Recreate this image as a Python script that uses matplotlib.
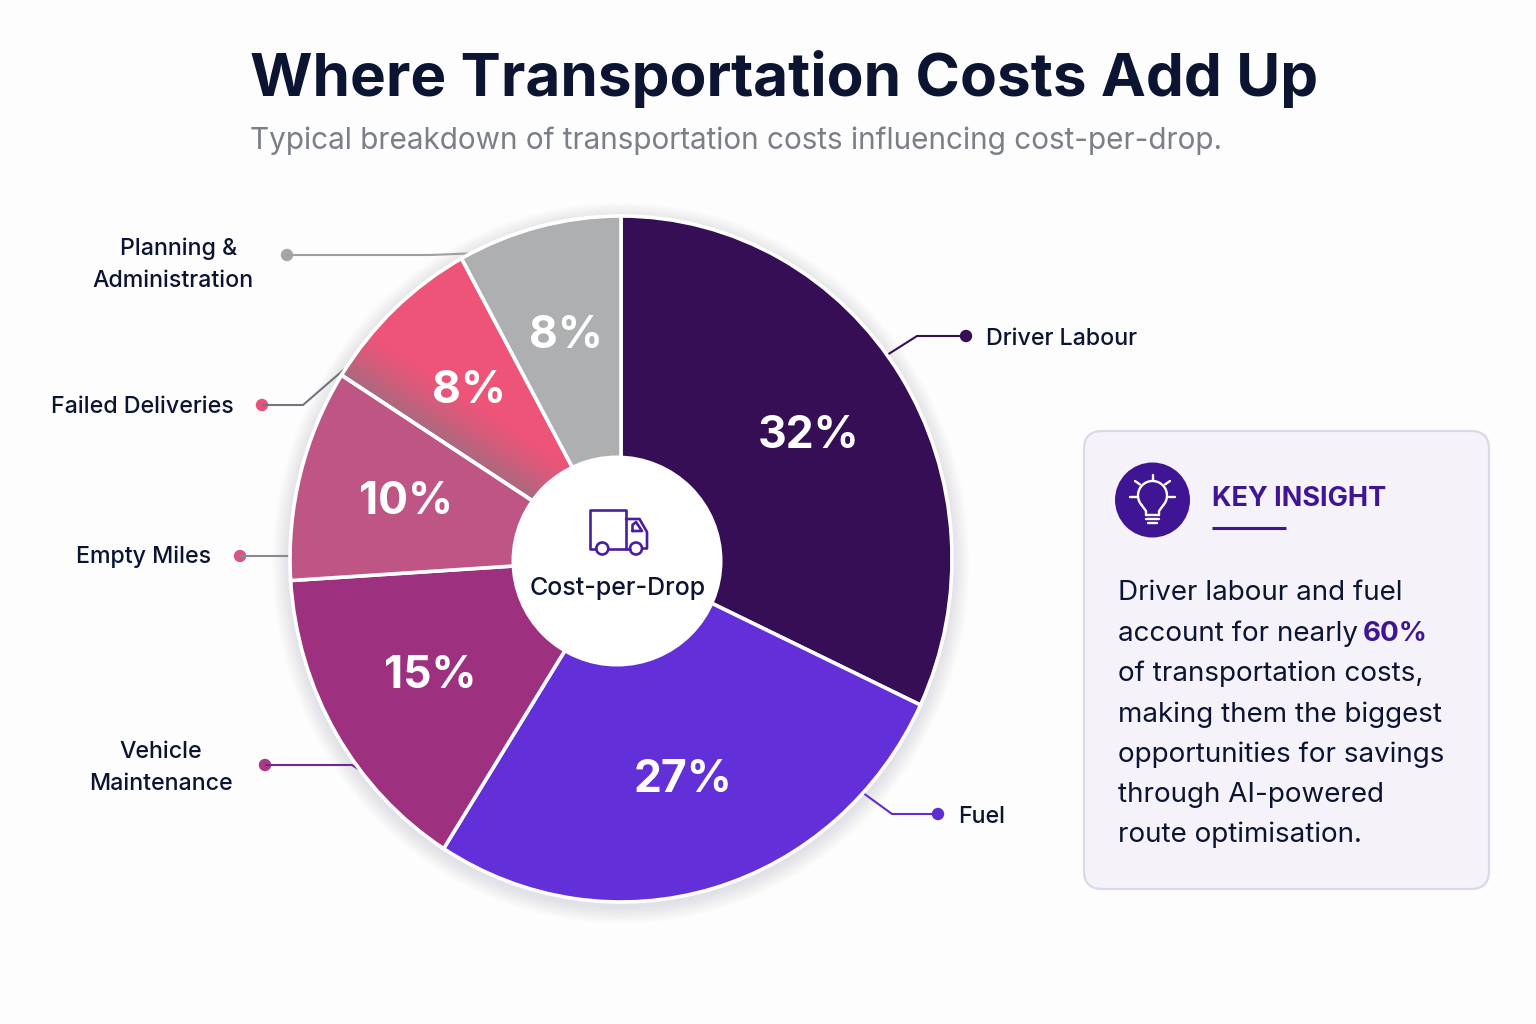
import numpy as np
import matplotlib
matplotlib.use('Agg')
import matplotlib.pyplot as plt
from matplotlib.patches import Circle, Ellipse, FancyBboxPatch

plt.rcParams['font.family'] = ['Inter', 'DejaVu Sans']

# cost shares
categories = ['Driver Labour', 'Fuel', 'Vehicle Maintenance', 'Empty Miles', 'Failed Deliveries', 'Planning & Administration']
shares = [32, 27, 15, 10, 8, 8]
colors = ['#350e55', '#632fd8', '#9d3180', '#be5585', '#ee5478', '#aeafb1']
dot_colors = ['#350e55', '#5f2dd0', '#a83a83', '#d75488', '#e6527c', '#a6a6a8']
line_colors = ['#350e55', '#5f2dd0', '#6b2a8f', '#8a8a8f', '#77727f', '#a0a0a2']

body_lines = ['Driver labour and fuel', 'account for nearly', 'of transportation costs,',
              'making them the biggest', 'opportunities for savings',
              'through AI-powered', 'route optimisation.']

W, H = 1536, 1024
CX, CY, RX, RY = 621, 559, 331, 343
INK = '#0b1430'
PURPLE = '#3f1594'

fig = plt.figure(figsize=(W / 100, H / 100), dpi=100, facecolor='#fdfdfe')


def pixel_axes(z):
    ax = fig.add_axes([0, 0, 1, 1], zorder=z)
    ax.set_xlim(0, W)
    ax.set_ylim(H, 0)
    ax.axis('off')
    ax.patch.set_alpha(0)
    return ax


def rim(angle):
    # point on the pie edge, angle clockwise from 12 o'clock
    a = np.radians(angle)
    return CX + RX * np.sin(a), CY - RY * np.cos(a)


back = pixel_axes(0)
top = pixel_axes(2)

# soft shadow behind the pie
for i in range(14):
    back.add_patch(Ellipse((CX, CY + 4), 2 * (RX + 2 + i * 1.2), 2 * (RY + 2 + i * 1.2),
                           fc='#3a2a70', ec='none', alpha=0.006))

# pie
pad = 1.1
pie_ax = fig.add_axes([(CX - RX * pad) / W, 1 - (CY + RY * pad) / H, 2 * RX * pad / W, 2 * RY * pad / H], zorder=1)
wedges, _ = pie_ax.pie(shares, colors=colors, startangle=90, counterclock=False, radius=1,
                       wedgeprops={'edgecolor': 'white', 'linewidth': 2.6})
pie_ax.set_aspect('auto')

# failed deliveries fades to a muted tone along its lower edge
failed = wedges[4]
low = np.radians(failed.theta2)
gx, gy = np.meshgrid(np.linspace(-1, 1, 500), np.linspace(-1, 1, 500))
dist = np.abs(gy * np.cos(low) - gx * np.sin(low))
mix = np.clip(1 - dist / 0.15, 0, 1)[..., None] ** 1.2
grad = (1 - mix) * np.array(matplotlib.colors.to_rgb('#ee5478')) + mix * np.array(matplotlib.colors.to_rgb('#a86a80'))
im = pie_ax.imshow(grad, extent=(-1, 1, -1, 1), origin='lower', aspect='auto', zorder=0.5)
im.set_clip_path(failed)
failed.set_facecolor('none')
pie_ax.set_xlim(-pad, pad)
pie_ax.set_ylim(-pad, pad)

for w, v in zip(wedges, shares):
    mid = np.radians((w.theta1 + w.theta2) / 2)
    pie_ax.text(0.67 * np.cos(mid), 0.67 * np.sin(mid), f'{v}%', color='white', fontsize=32,
                fontweight='bold', ha='center', va='center')

# centre hole
top.add_patch(Circle((617, 561), 105.5, fc='white', ec='none'))
top.text(618, 595, 'Cost-per-Drop', fontsize=18, fontweight='medium', color=INK, ha='center', va='baseline')

# truck icon
truck = dict(color='#4a1ea0', lw=1.9, solid_capstyle='round', solid_joinstyle='round')
top.plot([596, 589.5, 589.5, 626, 626], [549, 549, 510, 510, 549], **truck)
top.plot([626, 639.5, 647, 647, 642.5], [519, 519, 532, 548.5, 548.5], **truck)
top.plot([632.5, 632.5, 636, 642, 632.5], [531, 525, 522, 531, 531], **truck)
top.plot([608.5, 630], [549, 549], **truck)
for wx in (602.3, 636):
    top.add_patch(Circle((wx, 548.5), 6, fc='white', ec='#4a1ea0', lw=1.9))

# leaders and side labels
leaders = [
    ([966, 917, rim(53.5)[0]], [336, 336, rim(53.5)[1]]),
    ([938, 892, rim(133)[0]], [814, 814, rim(133)[1]]),
    ([265, 352, rim(232)[0]], [765, 765, rim(232)[1]]),
    ([240, rim(270)[0]], [556, 556]),
    ([262, 303, rim(304)[0]], [405, 405, rim(304)[1]]),
    ([287, 430, rim(333)[0]], [255, 255, rim(333)[1]]),
]
for (xs, ys), lc, dc in zip(leaders, line_colors, dot_colors):
    back.plot(xs, ys, color=lc, lw=1.5, solid_capstyle='butt', solid_joinstyle='miter')
    back.add_patch(Circle((xs[0], ys[0]), 6.2, fc=dc, ec='none'))

label_kw = dict(fontsize=16.7, fontweight='medium', color=INK, va='baseline')
top.text(986, 345, 'Driver Labour', ha='left', **label_kw)
top.text(958, 823, 'Fuel', ha='left', **label_kw)
top.text(161, 758, 'Vehicle', ha='center', **label_kw)
top.text(161, 790, 'Maintenance', ha='center', **label_kw)
top.text(144, 563, 'Empty Miles', ha='center', **label_kw)
top.text(142, 413, 'Failed Deliveries', ha='center', **label_kw)
top.text(179, 255, 'Planning &', ha='center', **label_kw)
top.text(173, 287, 'Administration', ha='center', **label_kw)

# title
top.text(784, 96, 'Where Transportation Costs Add Up', fontsize=43.4, fontweight='bold', color=INK,
         ha='center', va='baseline')
top.text(250, 149, 'Typical breakdown of transportation costs influencing cost-per-drop.', fontsize=21.4,
         color='#7b7f86', ha='left', va='baseline')

# insight panel
back.add_patch(FancyBboxPatch((1084, 431), 405, 458, boxstyle='round,pad=0,rounding_size=18',
                              fc='#f5f2fa', ec='#dcd8ea', lw=1.6))
top.add_patch(Circle((1152.5, 500), 37.5, fc=PURPLE, ec='none'))

# bulb icon
bulb = dict(color='white', lw=1.7, solid_capstyle='round')
head = np.radians(np.linspace(140, 400, 60))
top.plot(1152.5 + 14.5 * np.cos(head), 495.5 + 14.5 * np.sin(head), **bulb)
top.plot([1141.4, 1146, 1146], [504.8, 511, 515], **bulb)
top.plot([1163.6, 1159, 1159], [504.8, 511, 515], **bulb)
top.plot([1146, 1159], [515, 515], **bulb)
top.plot([1146, 1159], [519, 519], **bulb)
top.plot([1148, 1157], [523, 523], **bulb)
for x0, y0, x1, y1 in [(1152.5, 475, 1152.5, 480), (1130, 496.7, 1136.5, 496.7), (1168.5, 496.7, 1175, 496.7),
                       (1135, 481, 1140, 484.5), (1170, 481, 1165, 484.5)]:
    top.plot([x0, x1], [y0, y1], **bulb)

top.text(1212, 506, 'KEY INSIGHT', fontsize=19.5, fontweight='bold', color=PURPLE, ha='left', va='baseline')
top.plot([1212, 1286], [528, 528], color=PURPLE, lw=2.2, solid_capstyle='butt')

baselines = [600, 641, 681, 722, 762, 802, 842]
for s, y in zip(body_lines, baselines):
    top.text(1118, y, s, fontsize=20, color=INK, ha='left', va='baseline')

# bold figure continues the second body line
top.text(1363, baselines[1], '60%', fontsize=20, fontweight='bold', color=PURPLE, ha='left', va='baseline')

fig.savefig('out.png', dpi=100, facecolor=fig.get_facecolor())
